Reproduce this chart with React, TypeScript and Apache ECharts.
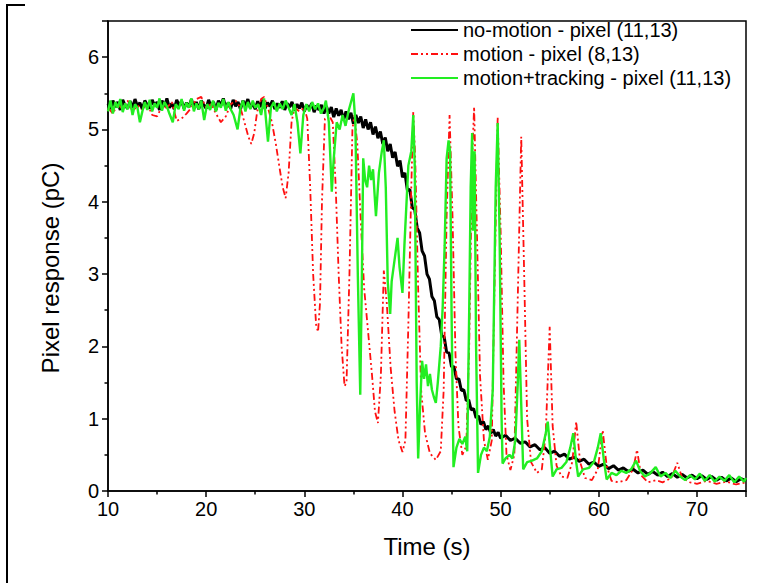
import React, { useEffect, useRef } from "react";
import * as echarts from "echarts";

const seriesNames = [
  "no-motion - pixel (11,13)",
  "motion - pixel (8,13)",
  "motion+tracking - pixel (11,13)",
];

const xTicks = { min: 10, max: 75, interval: 10 };
const yTicks = { min: 0, max: 6.5, interval: 1 };

const noMotion: [number, number][] = [
  [10.0, 5.36], [10.25, 5.28], [10.5, 5.4], [10.75, 5.31], [11.0, 5.38], [11.25, 5.27], [11.5, 5.41], [11.75, 5.33],
  [12.0, 5.29], [12.25, 5.39], [12.5, 5.3], [12.75, 5.42], [13.0, 5.32], [13.25, 5.37], [13.5, 5.28], [13.75, 5.4],
  [14.0, 5.34], [14.25, 5.29], [14.5, 5.41], [14.75, 5.33], [15.0, 5.38], [15.25, 5.27], [15.5, 5.4], [15.75, 5.32],
  [16.0, 5.43], [16.25, 5.3], [16.5, 5.36], [16.75, 5.28], [17.0, 5.41], [17.25, 5.33], [17.5, 5.39], [17.75, 5.29],
  [18.0, 5.37], [18.25, 5.31], [18.5, 5.42], [18.75, 5.3], [19.0, 5.38], [19.25, 5.28], [19.5, 5.4], [19.75, 5.34],
  [20.0, 5.29], [20.25, 5.41], [20.5, 5.32], [20.75, 5.38], [21.0, 5.27], [21.25, 5.4], [21.5, 5.33], [21.75, 5.43],
  [22.0, 5.3], [22.25, 5.37], [22.5, 5.29], [22.75, 5.41], [23.0, 5.32], [23.25, 5.38], [23.5, 5.28], [23.75, 5.4],
  [24.0, 5.33], [24.25, 5.42], [24.5, 5.3], [24.75, 5.36], [25.0, 5.28], [25.25, 5.39], [25.5, 5.31], [25.75, 5.41],
  [26.0, 5.29], [26.25, 5.37], [26.5, 5.32], [26.75, 5.4], [27.0, 5.28], [27.25, 5.36], [27.5, 5.3], [27.75, 5.39],
  [28.0, 5.27], [28.25, 5.36], [28.5, 5.31], [28.75, 5.38], [29.0, 5.26], [29.25, 5.35], [29.5, 5.29], [29.75, 5.37],
  [30.0, 5.25], [30.25, 5.34], [30.5, 5.28], [30.75, 5.36], [31.0, 5.24], [31.25, 5.33], [31.5, 5.27], [31.75, 5.34],
  [32.0, 5.22], [32.25, 5.32], [32.5, 5.22], [32.75, 5.31], [33.0, 5.17], [33.25, 5.29], [33.5, 5.19], [33.75, 5.27],
  [34.0, 5.13], [34.25, 5.25], [34.5, 5.14], [34.75, 5.23], [35.0, 5.08], [35.25, 5.2], [35.5, 5.09], [35.75, 5.18],
  [36.0, 5.02], [36.25, 5.14], [36.5, 5.0], [36.75, 5.1], [37.0, 4.93], [37.25, 5.04], [37.5, 4.88], [37.75, 4.97],
  [38.0, 4.8], [38.25, 4.89], [38.5, 4.7], [38.75, 4.8], [39.0, 4.61], [39.25, 4.69], [39.5, 4.49], [39.75, 4.57],
  [40.0, 4.34], [40.25, 4.4], [40.5, 4.16], [40.75, 4.17], [41.0, 3.92], [41.25, 3.89], [41.5, 3.64], [41.75, 3.57],
  [42.0, 3.32], [42.25, 3.25], [42.5, 3.0], [42.75, 2.93], [43.0, 2.69], [43.25, 2.63], [43.5, 2.41], [43.75, 2.37],
  [44.0, 2.15], [44.25, 2.13], [44.5, 1.92], [44.75, 1.91], [45.0, 1.72], [45.25, 1.72], [45.5, 1.55], [45.75, 1.55],
  [46.0, 1.39], [46.25, 1.4], [46.5, 1.25], [46.75, 1.26], [47.0, 1.12], [47.25, 1.14], [47.5, 1.01], [47.75, 1.04],
  [48.0, 0.92], [48.25, 0.96], [48.5, 0.85], [48.75, 0.9], [49.0, 0.8], [49.25, 0.85], [49.5, 0.76], [49.75, 0.81],
  [50.0, 0.73], [50.5, 0.77], [51.0, 0.7], [51.5, 0.73], [52.0, 0.66], [52.5, 0.68], [53.0, 0.61], [53.5, 0.64],
  [54.0, 0.57], [54.5, 0.6], [55.0, 0.52], [55.5, 0.55], [56.0, 0.48], [56.5, 0.51], [57.0, 0.44], [57.5, 0.47],
  [58.0, 0.41], [58.5, 0.44], [59.0, 0.37], [59.5, 0.4], [60.0, 0.34], [60.5, 0.37], [61.0, 0.31], [61.5, 0.35],
  [62.0, 0.29], [62.5, 0.32], [63.0, 0.27], [63.5, 0.3], [64.0, 0.25], [64.5, 0.29], [65.0, 0.23], [65.5, 0.27],
  [66.0, 0.22], [66.5, 0.26], [67.0, 0.2], [67.5, 0.24], [68.0, 0.19], [68.5, 0.23], [69.0, 0.18], [69.5, 0.22],
  [70.0, 0.17], [70.5, 0.21], [71.0, 0.16], [71.5, 0.2], [72.0, 0.15], [72.5, 0.19], [73.0, 0.14], [73.5, 0.18],
  [74.0, 0.13], [74.5, 0.17], [75.0, 0.14],
];

const motion: [number, number][] = [
  [10, 5.3], [10.5, 5.22], [11, 5.35], [11.5, 5.28], [12, 5.4], [12.5, 5.25], [13, 5.33], [13.5, 5.28], [14, 5.36],
  [14.5, 5.2], [15, 5.18], [15.5, 5.32], [16, 5.3], [16.5, 5.38], [17, 5.12], [17.5, 5.15], [18, 5.22], [18.5, 5.3],
  [19, 5.42], [19.5, 5.45], [20, 5.3], [20.5, 5.35], [21, 5.22], [21.5, 5.1], [22, 5.18], [22.5, 5.35], [23, 5.4],
  [23.5, 5.3], [24, 5.05], [24.3, 4.9], [24.6, 4.8], [24.9, 4.95], [25.2, 5.25], [25.6, 5.42], [25.9, 5.45],
  [26.3, 5.3], [26.7, 5.1], [27.1, 4.8], [27.5, 4.45], [27.8, 4.2], [28.1, 4.05], [28.4, 4.4], [28.7, 5.1],
  [29, 5.3], [29.5, 5.25], [30, 5.3], [30.3, 5.15], [30.6, 4.2], [30.9, 3.0], [31.2, 2.3], [31.4, 2.2], [31.6, 2.6],
  [31.8, 4.0], [32.1, 5.15], [32.5, 5.2], [32.9, 5.1], [33.2, 4.2], [33.5, 3.0], [33.8, 2.0], [34.1, 1.45],
  [34.3, 1.5], [34.6, 3.0], [34.9, 5.0], [35.1, 5.2], [35.4, 4.8], [35.8, 3.6], [36.1, 2.8], [36.5, 2.2],
  [36.9, 1.6], [37.2, 1.1], [37.5, 0.94], [37.8, 1.6], [38.1, 3.05], [38.4, 2.6], [38.8, 1.7], [39.2, 1.1],
  [39.6, 0.7], [40, 0.54], [40.3, 0.7], [40.6, 2.3], [40.9, 4.2], [41.1, 5.24], [41.3, 4.6], [41.6, 2.8],
  [41.9, 1.4], [42.3, 0.8], [42.8, 0.52], [43.4, 0.43], [43.9, 0.55], [44.2, 1.4], [44.5, 3.8], [44.8, 5.2],
  [45.1, 3.8], [45.4, 1.9], [45.7, 0.9], [46.1, 0.5], [46.5, 0.62], [46.8, 2.0], [47.1, 4.6], [47.3, 5.31],
  [47.6, 3.5], [47.9, 1.6], [48.3, 0.7], [48.7, 0.43], [49.1, 0.7], [49.4, 3.0], [49.7, 5.17], [50, 3.6],
  [50.3, 1.5], [50.6, 0.5], [51, 0.29], [51.4, 0.5], [51.8, 3.0], [52.1, 4.9], [52.4, 3.0], [52.7, 1.0],
  [53.1, 0.4], [53.7, 0.25], [54.2, 0.3], [54.6, 0.8], [55, 2.27], [55.3, 0.9], [55.7, 0.35], [56.2, 0.2],
  [56.8, 0.18], [57.3, 0.4], [57.7, 0.96], [58.1, 0.4], [58.6, 0.18], [59.3, 0.15], [59.9, 0.3], [60.4, 0.84],
  [60.8, 0.35], [61.3, 0.14], [62, 0.12], [62.8, 0.15], [63.5, 0.3], [63.9, 0.57], [64.3, 0.22], [65, 0.12],
  [65.8, 0.15], [66.5, 0.12], [67.4, 0.18], [68, 0.39], [68.5, 0.18], [69.3, 0.12], [70, 0.1], [71, 0.14],
  [72, 0.1], [73, 0.13], [74, 0.09], [75, 0.12],
];

const tracking: [number, number][] = [
  [10, 5.25], [10.25, 5.4], [10.5, 5.22], [10.75, 5.38], [11, 5.3], [11.25, 5.42], [11.5, 5.24], [11.75, 5.36],
  [12, 5.28], [12.25, 5.4], [12.5, 5.2], [12.75, 5.35], [13, 5.3], [13.25, 5.1], [13.5, 5.25], [13.75, 5.38],
  [14, 5.27], [14.25, 5.41], [14.5, 5.25], [14.75, 5.36], [15, 5.3], [15.25, 5.43], [15.5, 5.26], [15.75, 5.38],
  [16, 5.32], [16.25, 5.22], [16.6, 5.1], [16.9, 5.35], [17.2, 5.28], [17.5, 5.42], [17.75, 5.26], [18, 5.37],
  [18.25, 5.3], [18.5, 5.43], [18.75, 5.25], [19, 5.36], [19.25, 5.28], [19.5, 5.4], [19.8, 5.13], [20.1, 5.35],
  [20.4, 5.27], [20.7, 5.4], [21, 5.25], [21.25, 5.37], [21.5, 5.3], [21.75, 5.42], [22, 5.26], [22.25, 5.38],
  [22.5, 5.28], [22.8, 5.2], [23.2, 5.0], [23.5, 5.3], [23.75, 5.4], [24, 5.25], [24.25, 5.38], [24.5, 5.28],
  [24.75, 5.4], [25, 5.3], [25.3, 5.35], [25.6, 5.2], [25.9, 5.43], [26.3, 4.83], [26.6, 5.3], [26.9, 5.38],
  [27.2, 5.25], [27.5, 5.36], [27.8, 5.28], [28.1, 5.4], [28.4, 5.3], [28.7, 5.2], [29, 5.35], [29.3, 5.1],
  [29.6, 4.67], [29.9, 5.2], [30.2, 5.35], [30.5, 5.25], [30.8, 5.38], [31.1, 5.28], [31.4, 5.36], [31.7, 5.22],
  [32, 5.3], [32.2, 5.4], [32.5, 5.1], [32.8, 4.14], [33, 4.6], [33.3, 5.1], [33.6, 5.0], [33.9, 5.2],
  [34.2, 5.05], [34.5, 5.25], [34.8, 5.4], [35, 5.5], [35.2, 5.1], [35.45, 3.0], [35.7, 1.33], [35.85, 2.8],
  [36, 4.6], [36.2, 4.3], [36.4, 4.2], [36.6, 4.5], [36.8, 4.3], [37, 4.45], [37.3, 3.8], [37.6, 4.4],
  [37.9, 4.7], [38.1, 4.85], [38.3, 4.2], [38.5, 2.9], [38.75, 2.45], [38.9, 2.9], [39.2, 3.2], [39.5, 3.5],
  [39.7, 3.1], [40, 2.74], [40.2, 3.4], [40.6, 4.5], [40.9, 4.7], [41.1, 5.2], [41.25, 4.5], [41.45, 1.5],
  [41.6, 0.45], [41.8, 1.2], [42, 1.8], [42.2, 1.55], [42.4, 1.75], [42.6, 1.45], [42.8, 1.62], [43, 1.4],
  [43.2, 1.3], [43.4, 1.22], [43.6, 1.5], [43.9, 2.0], [44.1, 2.55], [44.3, 3.4], [44.5, 4.6], [44.7, 4.85],
  [44.85, 4.7], [45, 2.5], [45.2, 0.33], [45.5, 0.6], [45.8, 0.72], [46.1, 0.65], [46.4, 0.75], [46.6, 0.55],
  [46.8, 2.5], [46.95, 4.2], [47.1, 4.95], [47.2, 3.6], [47.35, 4.7], [47.5, 2.0], [47.7, 0.25], [48, 0.5],
  [48.3, 0.6], [48.6, 0.55], [48.9, 0.75], [49.2, 1.4], [49.5, 4.2], [49.7, 5.09], [49.9, 3.5], [50.1, 1.0],
  [50.2, 0.38], [50.5, 0.45], [50.9, 0.5], [51.2, 0.45], [51.5, 0.7], [51.75, 1.5], [51.9, 2.09], [52.1, 1.2],
  [52.3, 0.3], [52.7, 0.4], [53.2, 0.42], [53.7, 0.45], [54.2, 0.55], [54.6, 0.8], [54.8, 0.96], [55.1, 0.5],
  [55.3, 0.2], [55.7, 0.3], [56.2, 0.32], [56.7, 0.4], [57.1, 0.6], [57.4, 0.8], [57.7, 0.4], [57.9, 0.2],
  [58.4, 0.3], [59, 0.32], [59.5, 0.4], [59.9, 0.6], [60.2, 0.8], [60.5, 0.45], [60.8, 0.16], [61.3, 0.25],
  [61.8, 0.22], [62.3, 0.28], [62.8, 0.25], [63.3, 0.3], [63.8, 0.42], [64.2, 0.28], [64.7, 0.2], [65.2, 0.24],
  [65.8, 0.33], [66.3, 0.2], [66.8, 0.25], [67.3, 0.18], [67.8, 0.28], [68.3, 0.2], [68.8, 0.15], [69.3, 0.22],
  [69.8, 0.16], [70.3, 0.24], [70.8, 0.14], [71.3, 0.22], [71.8, 0.13], [72.3, 0.2], [72.8, 0.14], [73.3, 0.22],
  [73.8, 0.12], [74.3, 0.2], [74.8, 0.13], [75, 0.18],
];

const FONT = "'Liberation Sans', Arial, Helvetica, sans-serif";

export default function App() {
  const ref = useRef<HTMLDivElement>(null);
  useEffect(() => {
    if (!ref.current) return;
    const chart = echarts.init(ref.current, undefined, { renderer: "svg" });
    const axisCommon = {
      axisLine: { show: true, onZero: false, lineStyle: { color: "#000", width: 1.5 } },
      axisTick: { show: true, inside: false, length: 6, lineStyle: { color: "#000", width: 1.5 } },
      minorTick: { show: true, splitNumber: 2, length: 3.5, lineStyle: { color: "#000", width: 1.5 } },
      splitLine: { show: false },
      minorSplitLine: { show: false },
    };
    chart.setOption({
      animation: false,
      backgroundColor: "#fff",
      grid: {
        left: 108,
        right: 20,
        top: 21,
        bottom: 92,
        show: true,
        borderColor: "#000",
        borderWidth: 1.5,
        backgroundColor: "transparent",
      },
      legend: {
        orient: "vertical",
        left: 405,
        top: 15,
        itemWidth: 47,
        itemHeight: 1,
        itemGap: 4,
        data: seriesNames,
        itemStyle: { color: "transparent", borderColor: "transparent", borderWidth: 0, opacity: 0 },
        lineStyle: { width: 2 },
        textStyle: { color: "#000", fontSize: 20, fontFamily: FONT, lineHeight: 20 },
      },
      xAxis: {
        type: "value",
        min: xTicks.min,
        max: xTicks.max,
        interval: xTicks.interval,
        name: "Time (s)",
        nameLocation: "middle",
        nameGap: 43,
        nameTextStyle: { color: "#000", fontSize: 24, fontFamily: FONT },
        ...axisCommon,
        axisLabel: {
          color: "#000",
          fontSize: 20,
          fontFamily: FONT,
          margin: 8,
          showMaxLabel: false,
        },
      },
      yAxis: {
        type: "value",
        min: yTicks.min,
        max: yTicks.max,
        interval: yTicks.interval,
        name: "Pixel response (pC)",
        nameLocation: "middle",
        nameGap: 46,
        nameTextStyle: { color: "#000", fontSize: 24, fontFamily: FONT, padding: [0, 24, 0, 0] },
        ...axisCommon,
        axisLabel: {
          color: "#000",
          fontSize: 20,
          fontFamily: FONT,
          margin: 9,
          showMaxLabel: false,
        },
      },
      series: [
        {
          name: seriesNames[0],
          type: "line",
          data: noMotion,
          showSymbol: false,
          symbol: "none",
          lineStyle: { color: "#000", width: 3 },
          itemStyle: { color: "#000" },
          z: 2,
        },
        {
          name: seriesNames[1],
          type: "line",
          data: motion,
          showSymbol: false,
          symbol: "none",
          lineStyle: { color: "#ff1010", width: 1.8, type: [7, 3, 2, 3, 2, 3] },
          itemStyle: { color: "#ff1010" },
          z: 3,
        },
        {
          name: seriesNames[2],
          type: "line",
          data: tracking,
          showSymbol: false,
          symbol: "none",
          lineStyle: { color: "#22ee22", width: 2.4 },
          itemStyle: { color: "#22ee22" },
          z: 4,
        },
      ],
      graphic: [
        { type: "line", shape: { x1: 7, y1: 5, x2: 7, y2: 583 }, style: { stroke: "#000", lineWidth: 2 } },
        { type: "line", shape: { x1: 6, y1: 5, x2: 25, y2: 5 }, style: { stroke: "#000", lineWidth: 2 } },
      ],
    });
    return () => chart.dispose();
  }, []);
  return (
    <div
      ref={ref}
      style={{ position: "absolute", left: 0, top: 0, width: 766, height: 583, background: "#fff" }}
    />
  );
}
